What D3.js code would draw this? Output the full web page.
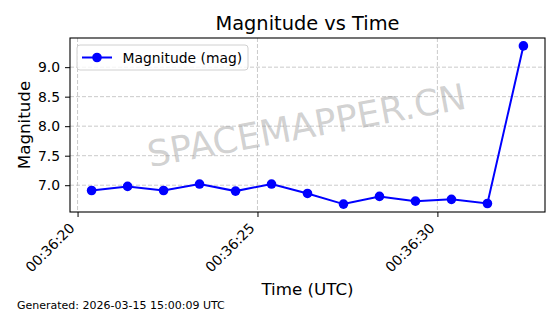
<!DOCTYPE html>
<html>
<head>
<meta charset="utf-8">
<script src="https://cdn.jsdelivr.net/npm/d3@7"></script>
<style>
  body { margin: 0; background: #fff; }
  svg text { font-family: "DejaVu Sans", sans-serif; }
</style>
</head>
<body>
<svg id="chart" width="560" height="314"></svg>
<script>
// seconds after 00:36:00 UTC
const times = [20.39, 21.39, 22.39, 23.39, 24.39, 25.39, 26.39, 27.39, 28.39, 29.39, 30.39, 31.39, 32.39];
const mags = [6.91, 6.98, 6.91, 7.02, 6.90, 7.02, 6.86, 6.68, 6.81, 6.73, 6.76, 6.69, 9.36];
const xTicks = [20, 25, 30];
const yTicks = [7.0, 7.5, 8.0, 8.5, 9.0];

const margin = {top: 38, right: 15, bottom: 102, left: 70},
  width = 560 - margin.left - margin.right,
  height = 314 - margin.top - margin.bottom;

const svg = d3.select("#chart");
const g = svg.append("g")
  .attr("transform", "translate(" + margin.left + "," + margin.top + ")");

// matplotlib style 5% padding
const xPad = (d3.max(times) - d3.min(times)) * 0.05;
const yPad = (d3.max(mags) - d3.min(mags)) * 0.05;

const x = d3.scaleLinear()
  .domain([d3.min(times) - xPad, d3.max(times) + xPad])
  .range([0, width]);
const y = d3.scaleLinear()
  .domain([d3.min(mags) - yPad, d3.max(mags) + yPad])
  .range([height, 0]);

const fmt = s => "00:36:" + d3.format("02d")(s);

// grid
g.selectAll(".vgrid")
  .data(xTicks)
  .enter().append("line")
  .attr("x1", d => x(d)).attr("x2", d => x(d))
  .attr("y1", 0).attr("y2", height)
  .attr("stroke", "#c4c4c4").attr("stroke-width", 0.9)
  .attr("stroke-dasharray", "4,2");
g.selectAll(".hgrid")
  .data(yTicks)
  .enter().append("line")
  .attr("y1", d => y(d)).attr("y2", d => y(d))
  .attr("x1", 0).attr("x2", width)
  .attr("stroke", "#c4c4c4").attr("stroke-width", 0.9)
  .attr("stroke-dasharray", "4,2");

// watermark
svg.append("text")
  .attr("transform", "translate(307,128) rotate(-10.5)")
  .attr("text-anchor", "middle")
  .attr("dominant-baseline", "middle")
  .style("font-size", "36px")
  .attr("fill", "#999")
  .attr("fill-opacity", 0.45)
  .text("SPACEMAPPER.CN");

// axes
const xAxis = g.append("g")
  .attr("transform", "translate(0," + height + ")")
  .call(d3.axisBottom(x).tickValues(xTicks).tickFormat(fmt).tickSize(5).tickSizeOuter(0));
xAxis.selectAll("text")
  .style("font-size", "13.9px")
  .attr("fill", "#000")
  .attr("text-anchor", "end")
  .attr("dy", null)
  .attr("y", 0)
  .attr("transform", "translate(-2.5,17) rotate(-45)");

const yAxis = g.append("g")
  .call(d3.axisLeft(y).tickValues(yTicks).tickFormat(d3.format(".1f")).tickSize(5).tickPadding(5).tickSizeOuter(0));
yAxis.selectAll("text").style("font-size", "13.9px").attr("fill", "#000");

g.selectAll(".domain").remove();
g.append("rect")
  .attr("width", width).attr("height", height)
  .attr("fill", "none").attr("stroke", "#000").attr("stroke-width", 1.1);

// line + markers
const line = d3.line().x((d, i) => x(times[i])).y(d => y(d));
g.append("path")
  .datum(mags)
  .attr("d", line)
  .attr("fill", "none")
  .attr("stroke", "#0000ff")
  .attr("stroke-width", 2);
g.selectAll(".dot")
  .data(mags)
  .enter().append("circle")
  .attr("cx", (d, i) => x(times[i]))
  .attr("cy", d => y(d))
  .attr("r", 4.8)
  .attr("fill", "#0000ff");

// legend
const legend = g.append("g").attr("transform", "translate(7,7)");
legend.append("rect")
  .attr("width", 171).attr("height", 25).attr("rx", 3)
  .attr("fill", "#fff").attr("fill-opacity", 0.8)
  .attr("stroke", "#d0d0d0");
legend.append("line")
  .attr("x1", 5).attr("x2", 35).attr("y1", 12.5).attr("y2", 12.5)
  .attr("stroke", "#0000ff").attr("stroke-width", 2);
legend.append("circle")
  .attr("cx", 20).attr("cy", 12.5).attr("r", 4.8).attr("fill", "#0000ff");
legend.append("text")
  .attr("x", 45.5).attr("y", 17.5)
  .style("font-size", "13.9px")
  .text("Magnitude (mag)");

// titles
svg.append("text")
  .attr("x", margin.left + width / 2).attr("y", 30)
  .attr("text-anchor", "middle")
  .style("font-size", "19.4px")
  .text("Magnitude vs Time");
svg.append("text")
  .attr("x", margin.left + width / 2).attr("y", 295)
  .attr("text-anchor", "middle")
  .style("font-size", "16.7px")
  .text("Time (UTC)");
svg.append("text")
  .attr("transform", "translate(30," + (margin.top + height / 2) + ") rotate(-90)")
  .attr("text-anchor", "middle")
  .style("font-size", "16.7px")
  .text("Magnitude");
svg.append("text")
  .attr("x", 17).attr("y", 309)
  .style("font-size", "11px")
  .text("Generated: 2026-03-15 15:00:09 UTC");
</script>
</body>
</html>
